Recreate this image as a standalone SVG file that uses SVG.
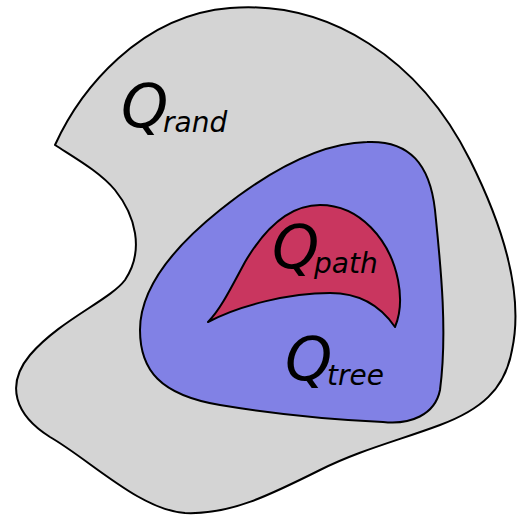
<svg xmlns="http://www.w3.org/2000/svg" width="518" height="515" viewBox="0 0 518 515">
<style>
.s{stroke:#000;stroke-width:2;stroke-linejoin:round}
.q{font-family:"DejaVu Sans",sans-serif;font-style:italic;fill:#000}
.big{font-size:60px}
.sub{font-size:28px}
</style>
<rect width="518" height="515" fill="#fff"/>
<g id="rand">
<path class="s" fill="#d4d4d4" d="M 55,145 C 80,90 140,15 230,8 C 330,0 420,60 470,160 C 500,220 525,290 512,350 C 505,390 480,410 440,425 C 400,440 360,450 320,470 C 270,495 230,515 185,513 C 140,510 90,460 50,437 C 15,415 5,385 30,355 C 60,320 110,300 125,280 C 145,250 135,215 115,190 C 100,172 75,158 55,145 Z"/>
<text class="q" x="121" y="127"><tspan class="big">Q</tspan><tspan class="sub" x="163" y="132">rand</tspan></text>
</g>
<g id="tree">
<path class="s" fill="#8181e5" d="M 367,142 C 410,140 430,165 435,210 C 440,260 448,330 440,390 C 435,415 410,425 383,422 C 340,420 280,415 220,405 C 160,395 140,370 140,330 C 140,290 170,250 220,210 C 270,170 320,143 367,142 Z"/>
<text class="q" x="285" y="380"><tspan class="big">Q</tspan><tspan class="sub" x="327" y="385">tree</tspan></text>
</g>
<g id="path">
<path class="s" fill="#c9365f" d="M 208,322 C 220,310 230,290 245,262 C 265,228 290,205 320,205 C 360,205 390,240 398,280 C 402,300 400,315 395,327 C 380,305 360,293 330,293 C 290,293 240,305 208,322 Z"/>
<text class="q" x="272" y="268"><tspan class="big">Q</tspan><tspan class="sub" x="314" y="273">path</tspan></text>
</g>
</svg>
